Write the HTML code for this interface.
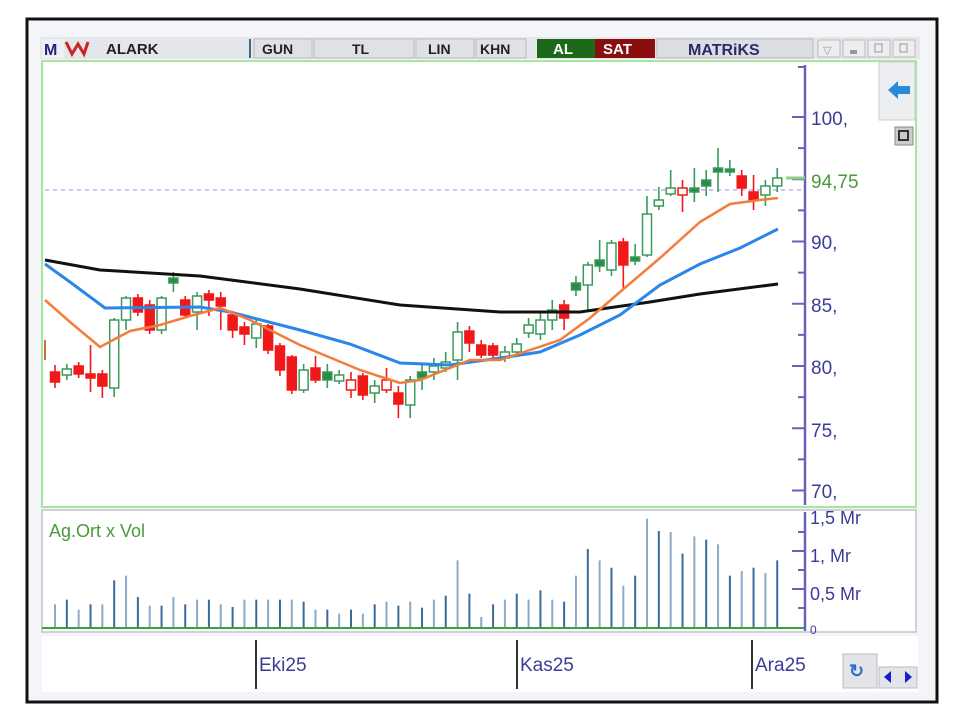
<!DOCTYPE html>
<html><head><meta charset="utf-8"><style>
html,body{margin:0;padding:0;background:#fff;width:960px;height:721px;overflow:hidden}
svg{display:block;font-family:"Liberation Sans",sans-serif}
</style></head><body>
<svg id="s" width="960" height="721" viewBox="0 0 960 721" xmlns="http://www.w3.org/2000/svg">
<rect x="0" y="0" width="960" height="721" fill="#fff"/>
<rect x="27" y="19" width="910" height="683" fill="#f4f5f8" stroke="#111" stroke-width="3"/>
<!-- toolbar -->
<rect x="40" y="37" width="880" height="22" fill="#e4e6ea"/>
<rect x="42" y="39" width="22" height="19" fill="#eef0f8"/>
<text x="44" y="55" font-size="16" font-weight="bold" fill="#23237a">M</text>
<path d="M66 42 l6 12 l6 -10 l6 10 l4 -12" stroke="#cc2222" stroke-width="3" fill="none"/>
<text x="106" y="54" font-size="15" font-weight="bold" fill="#222">ALARK</text>
<line x1="250" y1="39" x2="250" y2="58" stroke="#3a6a8a" stroke-width="2"/>
<rect x="254" y="39" width="58" height="19" fill="#dfe1e5" stroke="#bbb"/><text x="262" y="54" font-size="14" font-weight="bold" fill="#222">GUN</text>
<rect x="314" y="39" width="100" height="19" fill="#dfe1e5" stroke="#bbb"/><text x="352" y="54" font-size="14" font-weight="bold" fill="#222">TL</text>
<rect x="416" y="39" width="58" height="19" fill="#dfe1e5" stroke="#bbb"/><text x="428" y="54" font-size="14" font-weight="bold" fill="#222">LIN</text>
<rect x="476" y="39" width="50" height="19" fill="#dfe1e5" stroke="#bbb"/><text x="480" y="54" font-size="14" font-weight="bold" fill="#222">KHN</text>
<rect x="537" y="39" width="58" height="19" fill="#1a6a1a"/><text x="553" y="54" font-size="15" font-weight="bold" fill="#fff">AL</text>
<rect x="595" y="39" width="60" height="19" fill="#8a0e0e"/><text x="603" y="54" font-size="15" font-weight="bold" fill="#fff">SAT</text>
<rect x="657" y="39" width="156" height="19" fill="#dcdde2" stroke="#bbb"/><text x="688" y="55" font-size="16" font-weight="bold" fill="#2a2a6a">MATRiKS</text>
<rect x="818" y="40" width="22" height="17" fill="#eee" stroke="#bbb"/><text x="823" y="54" font-size="11" fill="#999">▽</text>
<rect x="843" y="40" width="22" height="17" fill="#eee" stroke="#bbb"/><rect x="850" y="50" width="7" height="4" fill="#999"/>
<rect x="868" y="40" width="22" height="17" fill="#eee" stroke="#bbb"/><rect x="875" y="44" width="7" height="8" fill="none" stroke="#999"/>
<rect x="893" y="40" width="22" height="17" fill="#eee" stroke="#bbb"/><rect x="900" y="44" width="7" height="8" fill="none" stroke="#999"/>
<!-- main panel -->
<rect x="42" y="61" width="874" height="446" fill="#fff" stroke="#a8e6a0" stroke-width="2"/>
<rect x="879" y="62" width="36" height="58" fill="#eceef2" stroke="#ccc"/>
<path d="M888 90 l10 -9 v5 h12 v8 h-12 v5z" fill="#2a8ad8"/>
<rect x="895" y="127" width="18" height="18" fill="#ccc" stroke="#888"/><rect x="899" y="131" width="9" height="9" fill="none" stroke="#333" stroke-width="2"/>
<line x1="45" y1="190" x2="805" y2="190" stroke="#b8aef0" stroke-width="1.5" stroke-dasharray="4,4"/>
<g id="cand"></g>
<polyline fill="none" stroke="#111" stroke-width="3" points="45,260 100,270 200,276 300,289 400,305 500,312 580,312 650,302 700,294 778,284"/>
<polyline fill="none" stroke="#2a86e8" stroke-width="3" points="45,264 70,282 105,308 200,307 230,312 300,330 350,344 400,363 450,365 500,358 540,352 580,335 620,315 660,285 700,264 740,248 778,229"/>
<polyline fill="none" stroke="#f47c3c" stroke-width="2.5" points="45,300 70,322 100,347 130,331 160,325 190,316 220,308 250,320 300,345 360,370 400,383 420,380 450,368 470,360 500,360 530,350 560,340 590,318 620,292 660,258 700,222 730,204 760,200 778,198"/>
<!-- price axis -->
<line x1="805" y1="65" x2="805" y2="505" stroke="#6a62b8" stroke-width="2.5"/>
<g id="pax"></g>
<line x1="786" y1="178" x2="805" y2="178" stroke="#8ad08a" stroke-width="3"/>
<text x="811" y="188" font-size="19" fill="#4a9a3a">94,75</text>
<!-- volume panel -->
<rect x="42" y="510" width="874" height="122" fill="#fff" stroke="#c4c4c4" stroke-width="1.5"/>
<text x="49" y="537" font-size="18" fill="#4a9a3a">Ag.Ort x Vol</text>
<g id="vol"></g>
<line x1="42" y1="628" x2="805" y2="628" stroke="#3aa03a" stroke-width="2"/>
<line x1="805" y1="512" x2="805" y2="631" stroke="#6a62b8" stroke-width="2.5"/>
<g stroke="#6a62b8" stroke-width="2"><line x1="792" y1="551" x2="805" y2="551"/><line x1="792" y1="589" x2="805" y2="589"/><line x1="798" y1="532" x2="805" y2="532"/><line x1="798" y1="570" x2="805" y2="570"/><line x1="798" y1="608" x2="805" y2="608"/></g>
<g font-size="18" fill="#3c3c98"><text x="810" y="524">1,5 Mr</text><text x="810" y="562">1, Mr</text><text x="810" y="600">0,5 Mr</text><text x="810" y="634" font-size="12">0</text></g>
<!-- date axis -->
<rect x="42" y="636" width="876" height="56" fill="#fff"/>
<g stroke="#333" stroke-width="2"><line x1="256" y1="640" x2="256" y2="689"/><line x1="517" y1="640" x2="517" y2="689"/><line x1="752" y1="640" x2="752" y2="689"/></g>
<g font-size="19" fill="#3c3c98"><text x="259" y="671">Eki25</text><text x="520" y="671">Kas25</text><text x="755" y="671">Ara25</text></g>
<rect x="843" y="654" width="34" height="34" fill="#e2e4e8" stroke="#bbb"/><text x="849" y="677" font-size="18" fill="#2a70c8" font-weight="bold">↻</text>
<rect x="879" y="667" width="38" height="21" fill="#e2e4e8" stroke="#bbb"/>
<path d="M884 677 l7 -6 v12z M912 677 l-7 -6 v12z" fill="#1a1ad0"/>
</svg>
<script>
var NS="http://www.w3.org/2000/svg";
function el(p,t,a){var e=document.createElementNS(NS,t);for(var k in a)e.setAttribute(k,a[k]);p.appendChild(e);return e;}
var pax=document.getElementById('pax');
var labels=[[117,"100,"],[241,"90,"],[304,"85,"],[366,"80,"],[429,"75,"],[490,"70,"]];
for(var v=100;v>=70;v-=2.5){var y=117+(100-v)*12.45;el(pax,'line',{x1:(v%5==0?792:798),y1:y,x2:805,y2:y,stroke:'#6a62b8','stroke-width':2});}
el(pax,'line',{x1:798,y1:67,x2:805,y2:67,stroke:'#6a62b8','stroke-width':2});
labels.forEach(function(l){var t=el(pax,'text',{x:811,y:l[0]+8,'font-size':19,fill:'#3c3c98'});t.textContent=l[1];});
// candles: [top,bottom,hi,lo,type] type: r=red filled, h=hollow green, g=green filled, rh=red hollow
var C=[[372,382,365,388,'r'],[369,375,364,380,'h'],[366,374,362,378,'r'],[374,378,345,392,'r'],[374,386,370,398,'r'],[320,388,318,397,'h'],[298,320,296,330,'h'],[298,312,294,316,'r'],[305,330,300,334,'r'],[298,330,296,334,'h'],[278,283,272,292,'g'],[300,315,296,318,'r'],[296,312,292,330,'h'],[294,300,290,316,'r'],[298,306,292,330,'r'],[315,330,312,338,'r'],[327,334,322,345,'r'],[324,338,318,348,'h'],[326,350,324,354,'r'],[346,370,343,376,'r'],[357,390,355,394,'r'],[370,390,364,393,'h'],[368,380,356,383,'r'],[372,380,364,388,'g'],[375,381,370,384,'h'],[380,390,372,398,'rh'],[376,395,373,400,'r'],[386,393,380,403,'h'],[380,390,368,393,'rh'],[393,404,386,418,'r'],[380,405,376,418,'h'],[372,378,363,390,'g'],[366,372,358,380,'h'],[362,368,352,372,'h'],[332,360,322,380,'h'],[331,343,326,352,'r'],[345,355,340,358,'r'],[346,355,343,360,'r'],[352,358,346,362,'h'],[344,352,338,356,'h'],[325,333,318,338,'h'],[320,334,312,340,'h'],[310,320,300,330,'h'],[305,318,300,330,'r'],[283,290,276,296,'g'],[265,285,262,310,'h'],[260,266,240,272,'g'],[243,270,240,276,'h'],[242,265,238,290,'r'],[257,261,244,265,'g'],[214,255,196,257,'h'],[200,206,187,210,'h'],[188,194,170,196,'h'],[188,195,180,212,'rh'],[188,192,168,202,'g'],[180,186,170,196,'g'],[168,172,148,192,'g'],[169,172,160,176,'g'],[176,188,170,196,'r'],[192,200,175,210,'r'],[186,195,180,206,'h'],[178,186,168,192,'h']];
var g=document.getElementById('cand');
C.forEach(function(c,i){var x=55+i*11.84;var col=(c[4]=='r'||c[4]=='rh')?'#f01818':'#3a9a5a';
 el(g,'line',{x1:x,y1:c[2],x2:x,y2:c[3],stroke:col,'stroke-width':1.6});
 var fill=(c[4]=='r'?'#f01818':c[4]=='g'?'#2a8a4a':'#fff');
 el(g,'rect',{x:x-4.5,y:c[0],width:9,height:Math.max(3,c[1]-c[0]),fill:fill,stroke:col,'stroke-width':1.5});});
el(g,'line',{x1:45,y1:340,x2:45,y2:360,stroke:'#c8703a','stroke-width':2});
var V=[312,298,328,312,312,240,226,290,316,316,290,312,298,298,312,320,298,298,298,298,298,304,328,328,340,328,340,312,304,316,304,322,298,286,180,280,350,312,298,280,298,270,298,304,226,146,180,202,256,226,55,92,95,160,108,118,132,226,212,202,218,180];
var vg=document.getElementById('vol');
V.forEach(function(t,i){var x=55+i*11.84;var h=(383-t)/3;el(vg,'line',{x1:x,y1:628-h,x2:x,y2:628,stroke:(i%2?'#3a6a9a':'#8aaac8'),'stroke-width':2});});
</script>
</body></html>
